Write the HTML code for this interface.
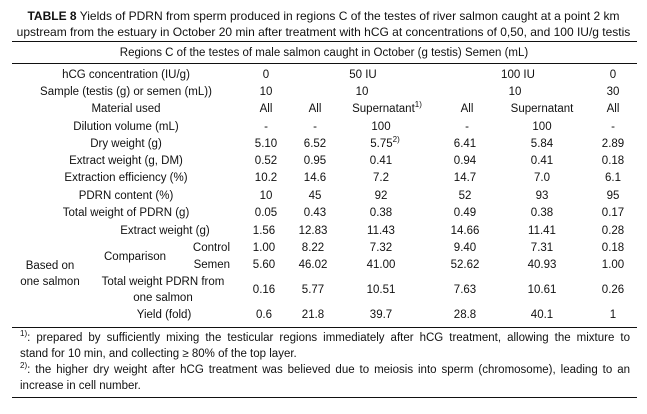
<!DOCTYPE html>
<html><head><meta charset="utf-8"><style>
body{margin:0;width:647px;height:414px;background:#fff;position:relative;overflow:hidden;font-family:"Liberation Sans",Arial,sans-serif;color:#111;}
.c{position:absolute;transform:translate(-50%,-50%);white-space:nowrap;font-size:11.5px;}
.r{position:absolute;transform:translate(-100%,-50%);white-space:nowrap;font-size:11.5px;}
.h{position:absolute;left:12px;width:625px;height:1.3px;background:#111;}
.t{position:absolute;left:0;width:647px;text-align:center;font-size:12px;white-space:nowrap;}
sup{font-size:8px;vertical-align:5px;line-height:0;}
.f{position:absolute;left:20px;width:610px;font-size:11.5px;line-height:16px;white-space:nowrap;}
.j{text-align:justify;text-align-last:justify;}
</style></head><body>
<div class="t" style="top:9px">
<b>TABLE 8</b> Yields of PDRN from sperm produced in regions C of the testes of river salmon caught at a point 2 km</div>
<div class="t" style="top:25px">upstream from the estuary in October 20 min after treatment with hCG at concentrations of 0,50, and 100 IU/g testis</div>
<div class="h" style="top:41px"></div>
<div class="c" style="left:324px;top:53px">Regions C of the testes of male salmon caught in October (g testis) Semen (mL)</div>
<div class="h" style="top:63px"></div>

<div class="c" style="left:126px;top:75px">hCG concentration (IU/g)</div>
<div class="c" style="left:266px;top:75px">0</div><div class="c" style="left:363px;top:75px">50 IU</div><div class="c" style="left:518px;top:75px">100 IU</div><div class="c" style="left:613px;top:75px">0</div>

<div class="c" style="left:126px;top:92px">Sample (testis (g) or semen (mL))</div>
<div class="c" style="left:266px;top:92px">10</div><div class="c" style="left:362px;top:92px">10</div><div class="c" style="left:515px;top:92px">10</div><div class="c" style="left:613px;top:92px">30</div>

<div class="c" style="left:126px;top:109px">Material used</div>
<div class="c" style="left:266px;top:109px">All</div><div class="c" style="left:315px;top:109px">All</div><div class="c" style="left:387px;top:109px">Supernatant<sup>1)</sup></div><div class="c" style="left:467px;top:109px">All</div><div class="c" style="left:542px;top:109px">Supernatant</div><div class="c" style="left:613px;top:109px">All</div>

<div class="c" style="left:126px;top:127px">Dilution volume (mL)</div>
<div class="c" style="left:266px;top:127px">-</div><div class="c" style="left:315px;top:127px">-</div><div class="c" style="left:381px;top:127px">100</div><div class="c" style="left:467px;top:127px">-</div><div class="c" style="left:542px;top:127px">100</div><div class="c" style="left:613px;top:127px">-</div>

<div class="c" style="left:126px;top:144px">Dry weight (g)</div>
<div class="c" style="left:266px;top:144px">5.10</div><div class="c" style="left:315px;top:144px">6.52</div><div class="c" style="left:385px;top:144px">5.75<sup>2)</sup></div><div class="c" style="left:465px;top:144px">6.41</div><div class="c" style="left:542px;top:144px">5.84</div><div class="c" style="left:613px;top:144px">2.89</div>

<div class="c" style="left:126px;top:161px">Extract weight (g, DM)</div>
<div class="c" style="left:266px;top:161px">0.52</div><div class="c" style="left:315px;top:161px">0.95</div><div class="c" style="left:381px;top:161px">0.41</div><div class="c" style="left:465px;top:161px">0.94</div><div class="c" style="left:542px;top:161px">0.41</div><div class="c" style="left:613px;top:161px">0.18</div>

<div class="c" style="left:126px;top:178px">Extraction efficiency (%)</div>
<div class="c" style="left:266px;top:178px">10.2</div><div class="c" style="left:315px;top:178px">14.6</div><div class="c" style="left:381px;top:178px">7.2</div><div class="c" style="left:465px;top:178px">14.7</div><div class="c" style="left:542px;top:178px">7.0</div><div class="c" style="left:613px;top:178px">6.1</div>

<div class="c" style="left:126px;top:196px">PDRN content (%)</div>
<div class="c" style="left:266px;top:196px">10</div><div class="c" style="left:315px;top:196px">45</div><div class="c" style="left:381px;top:196px">92</div><div class="c" style="left:465px;top:196px">52</div><div class="c" style="left:542px;top:196px">93</div><div class="c" style="left:613px;top:196px">95</div>

<div class="c" style="left:126px;top:213px">Total weight of PDRN (g)</div>
<div class="c" style="left:266px;top:213px">0.05</div><div class="c" style="left:315px;top:213px">0.43</div><div class="c" style="left:381px;top:213px">0.38</div><div class="c" style="left:465px;top:213px">0.49</div><div class="c" style="left:542px;top:213px">0.38</div><div class="c" style="left:613px;top:213px">0.17</div>

<div class="c" style="left:165px;top:231px">Extract weight (g)</div>
<div class="c" style="left:264px;top:231px">1.56</div><div class="c" style="left:313px;top:231px">12.83</div><div class="c" style="left:381px;top:231px">11.43</div><div class="c" style="left:465px;top:231px">14.66</div><div class="c" style="left:542px;top:231px">11.41</div><div class="c" style="left:613px;top:231px">0.28</div>

<div class="c" style="left:135px;top:257px">Comparison</div>
<div class="r" style="left:230px;top:248px">Control</div>
<div class="r" style="left:230px;top:265px">Semen</div>
<div class="c" style="left:264px;top:248px">1.00</div><div class="c" style="left:313px;top:248px">8.22</div><div class="c" style="left:381px;top:248px">7.32</div><div class="c" style="left:465px;top:248px">9.40</div><div class="c" style="left:542px;top:248px">7.31</div><div class="c" style="left:613px;top:248px">0.18</div>
<div class="c" style="left:264px;top:265px">5.60</div><div class="c" style="left:313px;top:265px">46.02</div><div class="c" style="left:381px;top:265px">41.00</div><div class="c" style="left:465px;top:265px">52.62</div><div class="c" style="left:542px;top:265px">40.93</div><div class="c" style="left:613px;top:265px">1.00</div>

<div class="c" style="left:50px;top:266px">Based on</div>
<div class="c" style="left:50px;top:282px">one salmon</div>

<div class="c" style="left:163px;top:282px">Total weight PDRN from</div>
<div class="c" style="left:163px;top:298px">one salmon</div>
<div class="c" style="left:264px;top:290px">0.16</div><div class="c" style="left:313px;top:290px">5.77</div><div class="c" style="left:381px;top:290px">10.51</div><div class="c" style="left:465px;top:290px">7.63</div><div class="c" style="left:542px;top:290px">10.61</div><div class="c" style="left:613px;top:290px">0.26</div>

<div class="c" style="left:164px;top:315px">Yield (fold)</div>
<div class="c" style="left:264px;top:315px">0.6</div><div class="c" style="left:313px;top:315px">21.8</div><div class="c" style="left:381px;top:315px">39.7</div><div class="c" style="left:465px;top:315px">28.8</div><div class="c" style="left:542px;top:315px">40.1</div><div class="c" style="left:613px;top:315px">1</div>

<div class="h" style="top:327px"></div>
<div class="f j" style="top:330px"><sup>1)</sup>: prepared by sufficiently mixing the testicular regions immediately after hCG treatment, allowing the mixture to</div>
<div class="f" style="top:346px">stand for 10 min, and collecting ≥ 80% of the top layer.</div>
<div class="f j" style="top:362px"><sup>2)</sup>: the higher dry weight after hCG treatment was believed due to meiosis into sperm (chromosome), leading to an</div>
<div class="f" style="top:378px">increase in cell number.</div>
<div class="h" style="top:397px"></div>
</body></html>
